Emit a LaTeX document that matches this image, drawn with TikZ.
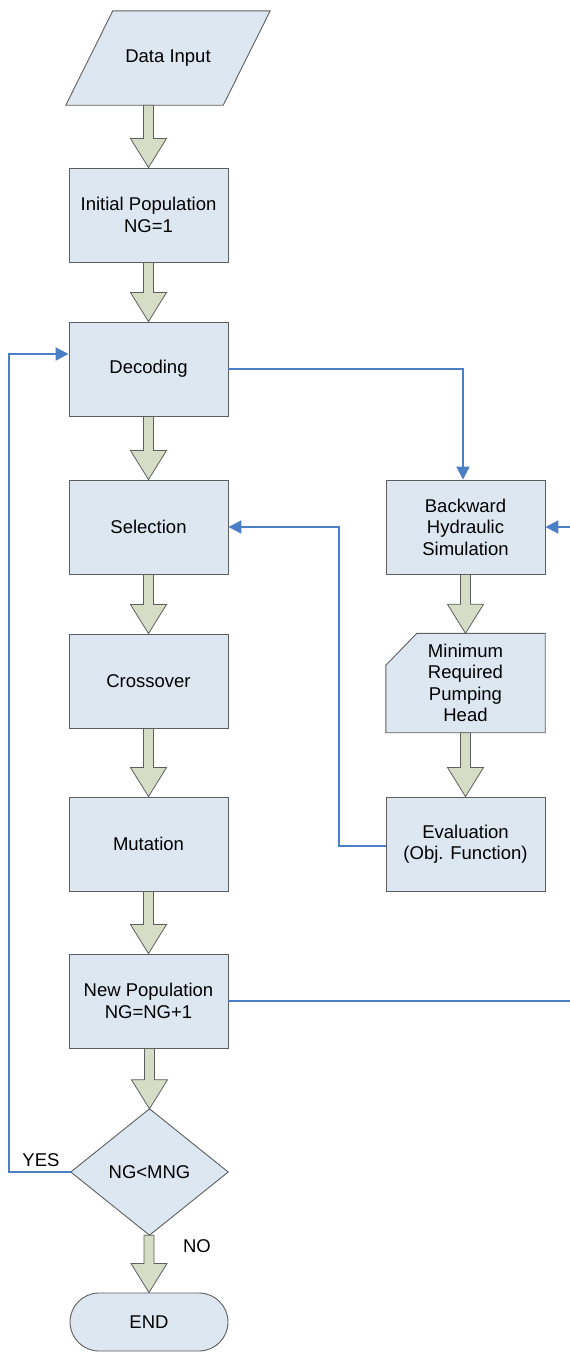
\documentclass[tikz,border=0pt]{standalone}
\usepackage{fontspec}
\setmainfont{Liberation Sans}
\usetikzlibrary{arrows.meta,calc,backgrounds}

\definecolor{boxfill}{HTML}{DDE7F2}
\definecolor{boxline}{HTML}{5E5E5E}
\definecolor{flowfill}{HTML}{D6DDC6}
\definecolor{linkblue}{HTML}{4A7EC5}

\tikzset{
  labeltext/.style={font=\fontsize{18.5}{21.5}\selectfont, align=center, text=black},
  procbox/.style={labeltext, draw=boxline, fill=boxfill, line width=0.9pt,
    minimum width=159pt, minimum height=94pt, inner sep=0pt},
  bareshape/.style={labeltext, inner sep=0pt},
  shapeline/.style={draw=boxline, fill=boxfill, line width=0.9pt, line join=miter},
  flowstyle/.style={draw=boxline, fill=flowfill, line width=0.8pt, line join=miter},
  linkstyle/.style={draw=linkblue, line width=2pt,
    -{Triangle[length=13pt,width=13pt]}},
  tagtext/.style={font=\fontsize{18.5}{21.5}\selectfont, text=black, inner sep=0pt}
}

% hollow block arrow from the bottom of #1 to the top of #2
\newcommand{\flowarrow}[2]{%
  \draw[flowstyle] let \p1=(#1.south), \p2=(#2.north) in
    (\x2-5pt,\y1) -- (\x2-5pt,\y2+29pt) -- (\x2-18pt,\y2+29pt) -- (\x2,\y2)
    -- (\x2+18pt,\y2+29pt) -- (\x2+5pt,\y2+29pt) -- (\x2+5pt,\y1) -- cycle;}

\begin{document}
\begin{tikzpicture}[x=1pt,y=-1pt]
  \useasboundingbox (0,0) rectangle (570,1353);
  \clip (0,0) rectangle (570,1353);

  % main column
  \node[bareshape, minimum width=204pt, minimum height=94pt] (din) at (168,58) {Data Input};
  \node[procbox] (init) at (148.5,215) {Initial Population\\NG=1};
  \node[procbox] (dec) at (148.5,369) {Decoding};
  \node[procbox] (sel) at (148.5,527) {Selection};
  \node[procbox] (cro) at (148.5,681) {Crossover};
  \node[procbox] (mut) at (148.5,844) {Mutation};
  \node[procbox] (np) at (148.5,1001) {New Population\\NG=NG+1};
  \node[bareshape, minimum width=157pt, minimum height=126pt] (dia) at (149.5,1172) {NG<MNG};
  \node[labeltext, draw=boxline, fill=boxfill, line width=0.9pt, inner sep=0pt,
        minimum width=158pt, minimum height=58pt, rounded corners=29pt] (endn) at (149,1322) {END};

  % evaluation column
  \node[procbox] (bhs) at (465.5,527) {Backward\\Hydraulic\\Simulation};
  \node[bareshape, minimum width=159pt, minimum height=99pt] (mrph) at (465.5,683)
        {Minimum\\Required\\Pumping\\Head};
  \node[procbox] (eval) at (465.5,844) {Evaluation\\(Obj. Function)};

  % outlines of the non-rectangular symbols
  \begin{scope}[on background layer]
    \draw[shapeline] ([xshift=47pt]din.north west) -- (din.north east)
      -- ([xshift=-47pt]din.south east) -- (din.south west) -- cycle;
    \draw[shapeline] ([yshift=-32pt]mrph.north west) -- ([xshift=31pt]mrph.north west)
      -- (mrph.north east) -- (mrph.south east) -- (mrph.south west) -- cycle;
    \draw[shapeline] (dia.north) -- (dia.east) -- (dia.south) -- (dia.west) -- cycle;
  \end{scope}

  % flow arrows
  \flowarrow{din}{init}
  \flowarrow{init}{dec}
  \flowarrow{dec}{sel}
  \flowarrow{sel}{cro}
  \flowarrow{cro}{mut}
  \flowarrow{mut}{np}
  \flowarrow{np}{dia}
  \flowarrow{dia}{endn}
  \flowarrow{bhs}{mrph}
  \flowarrow{mrph}{eval}

  % connectors
  \coordinate (leftrail) at (9,0);
  \coordinate (rightrail) at (590,0);
  \coordinate (midrail) at (339,0);
  \draw[linkstyle] (dec.east) -| ([xshift=-2.5pt]bhs.north);
  \draw[linkstyle] ([yshift=-2pt]eval.west) -- ([yshift=-2pt]eval.west -| midrail) |- (sel.east);
  \draw[linkstyle] (np.east) -- (np.east -| rightrail) |- (bhs.east);
  \draw[linkstyle] (dia.west) -- (dia.west -| leftrail) |- ([yshift=15pt]dec.west);

  % decision labels
  \node[tagtext] (yes) at (41,1160) {YES};
  \node[tagtext] (no) at (197,1246) {NO};
\end{tikzpicture}
\end{document}
